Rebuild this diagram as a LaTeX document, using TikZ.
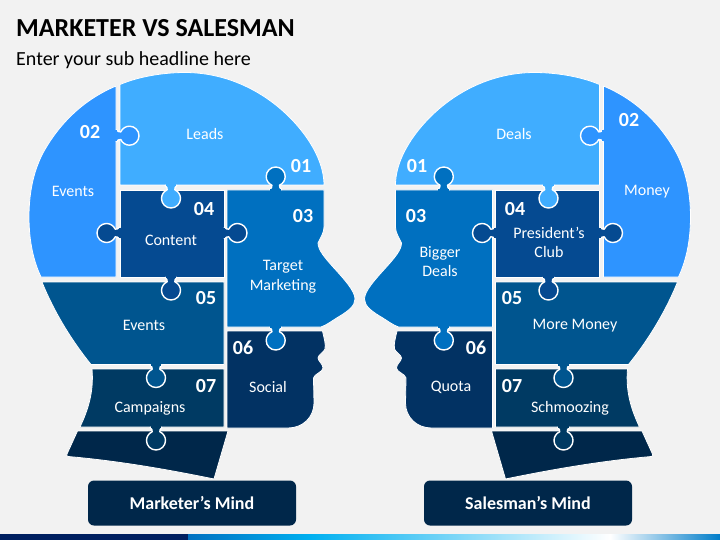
\documentclass[tikz,border=0pt]{standalone}
\usepackage{fontspec}
\setmainfont{Carlito}
\usetikzlibrary{positioning}

\definecolor{pagebg}{HTML}{F2F2F2}
\definecolor{colA}{HTML}{40ADFF}
\definecolor{colB}{HTML}{2E94FF}
\definecolor{colC}{HTML}{0070C0}
\definecolor{colD}{HTML}{054A91}
\definecolor{colE}{HTML}{00558F}
\definecolor{colF}{HTML}{023263}
\definecolor{colG}{HTML}{003A63}
\definecolor{colH}{HTML}{00274A}
\definecolor{footA}{HTML}{001F60}
\definecolor{footB}{HTML}{00B0F0}

\tikzset{
  piece/.style={draw=white, line width=0.8pt, line join=round},
  lbl/.style={text=white, font=\fontsize{16}{19.5}\selectfont, align=center, inner sep=0pt},
  num/.style={text=white, font=\fontsize{20}{20}\selectfont\bfseries, inner sep=0pt},
  caption/.style={fill=colH, rounded corners=6pt, text=white, minimum width=208pt, minimum height=45pt,
    font=\fontsize{18}{18}\selectfont\bfseries, inner sep=0pt}
}

% tab of a puzzle piece: base point, direction, colour
\newcommand{\knob}[4]{
  \begin{scope}[shift={(#1,#2)}, rotate=#3]
    \path[fill=#4, draw=white, line width=1.4pt, line join=round]
      (0,-6) .. controls (2,-4.2) and (3.5,-3.6) .. (4.79,-3.8)
      .. controls (6.3,-7.27) and (9.72,-9.5) .. (13.5,-9.5)
      .. controls (18.75,-9.5) and (23,-5.25) .. (23,0)
      .. controls (23,5.25) and (18.75,9.5) .. (13.5,9.5)
      .. controls (9.72,9.5) and (6.3,7.27) .. (4.79,3.8)
      .. controls (3.5,3.6) and (2,4.2) .. (0,6);
    \fill[#4] (-1.2,-5.4) rectangle (1.2,5.4);
  \end{scope}
}

% one head, left hand version
\newcommand{\headpieces}{
  % 01
  \path[piece, fill=colA] (120,84.5) .. controls (140,76) and (165,72.5) .. (185,72.5)
    .. controls (225,72.5) and (265,90) .. (295,123) .. controls (313,143) and (324,165) .. (324,185)
    -- (120,185) -- cycle;
  % 02
  \path[piece, fill=colB] (116,86) .. controls (85,99) and (60,122) .. (43,153)
    .. controls (32,174) and (29,197) .. (29,217) .. controls (29,240) and (33,260) .. (41,277)
    -- (116,277) -- cycle;
  % 03
  \path[piece, fill=colC] (227,190) -- (324,190) -- (324,226) .. controls (324,234) and (320,238) .. (318,243)
    .. controls (318,250) and (325,258) .. (334,268) .. controls (344,279) and (355,291) .. (355,299)
    .. controls (355,306) and (348,311) .. (340,316) .. controls (333,320) and (327,325) .. (321,327)
    -- (227,327) -- cycle;
  % 04
  \path[piece, fill=colD] (120,190) rectangle (224,277);
  % 05
  \path[piece, fill=colE] (42,282) -- (224,282) -- (224,364.5) -- (91,364.5)
    .. controls (72,341) and (54,312) .. (42,282) -- cycle;
  % 06
  \path[piece, fill=colF] (227,331) -- (322.5,331) .. controls (324,338) and (326,344) .. (325,349)
    .. controls (324,352) and (318,355) .. (318,358) .. controls (318,361) and (323,364) .. (323,368)
    .. controls (323,372) and (314,374) .. (313.5,378) -- (314,403)
    .. controls (314,417) and (303,428) .. (288,428) -- (227,428) -- cycle;
  % 07
  \path[piece, fill=colG] (92,369) -- (224,369) -- (224,427) -- (80,427)
    .. controls (88,410) and (94,392) .. (92,369) -- cycle;
  % chin
  \path[piece, fill=colH] (77.5,431) -- (228,431) -- (214,479)
    .. controls (170,470) and (120,461) .. (68,456.5) .. controls (66.5,456) and (66.5,455) .. (67,454) -- cycle;
  % tabs
  \knob{275.7}{190}{90}{colC}
  \knob{116}{135.7}{0}{colB}
  \knob{171}{185}{270}{colA}
  \knob{120}{233}{180}{colD}
  \knob{224}{233}{0}{colD}
  \knob{171}{277}{270}{colD}
  \knob{275.7}{327}{270}{colC}
  \knob{156}{364.5}{270}{colE}
  \knob{156}{427}{270}{colG}
}

\begin{document}
\begin{tikzpicture}[x=1pt, y=-1pt]
  \useasboundingbox (0,0) rectangle (720,540);
  \fill[pagebg] (0,0) rectangle (720,540);

  \node[anchor=west, inner sep=0pt, font=\fontsize{26}{26}\selectfont\bfseries] (title) at (16,28) {MARKETER VS SALESMAN};
  \node[anchor=west, inner sep=0pt, font=\fontsize{20}{20}\selectfont] (subtitle) at (16,60) {Enter your sub headline here};

  \headpieces
  \begin{scope}[shift={(719.5,0)}, xscale=-1]
    \headpieces
  \end{scope}

  % left head
  \node[lbl] (leads) at (205,134.5) {Leads};
  \node[lbl] (eventsA) at (73,191.5) {Events};
  \node[lbl] (content) at (171,240.5) {Content};
  \node[lbl] (target) at (283,276.5) {Target\\Marketing};
  \node[lbl] (eventsB) at (144,325.5) {Events};
  \node[lbl] (social) at (268,387.5) {Social};
  \node[lbl] (campaigns) at (150,408.5) {Campaigns};
  \node[num] (l1) at (301,166) {01};
  \node[num] (l2) at (90,132) {02};
  \node[num] (l3) at (303,216) {03};
  \node[num] (l4) at (204,209) {04};
  \node[num] (l5) at (206,298) {05};
  \node[num] (l6) at (243,348) {06};
  \node[num] (l7) at (206,386) {07};

  % right head
  \node[lbl] (deals) at (514,134.5) {Deals};
  \node[lbl] (money) at (647,191.5) {Money};
  \node[lbl] (club) at (549,242.5) {President’s\\Club};
  \node[lbl] (bigger) at (440,261.5) {Bigger\\Deals};
  \node[lbl] (moremoney) at (575,325.5) {More Money};
  \node[lbl] (quota) at (451,387.5) {Quota};
  \node[lbl] (schmoozing) at (570,408.5) {Schmoozing};
  \node[num] (r1) at (417,166) {01};
  \node[num] (r2) at (629,120) {02};
  \node[num] (r3) at (416,216) {03};
  \node[num] (r4) at (515,209) {04};
  \node[num] (r5) at (512,298) {05};
  \node[num] (r6) at (476,348) {06};
  \node[num] (r7) at (512,386) {07};

  \node[caption] (marketer) at (192,503) {Marketer’s Mind};
  \node[caption] (salesman) at (528,503) {Salesman’s Mind};

  % footer
  \fill[footA] (0,534) rectangle (188,540);
  \shade[left color=colC, right color=footB] (188,534) rectangle (310,540);
  \shade[left color=footB, right color=white] (310,534) rectangle (610,540);
  \shade[left color=white, right color=colC!80!footB] (610,534) rectangle (720,540);
\end{tikzpicture}
\end{document}
